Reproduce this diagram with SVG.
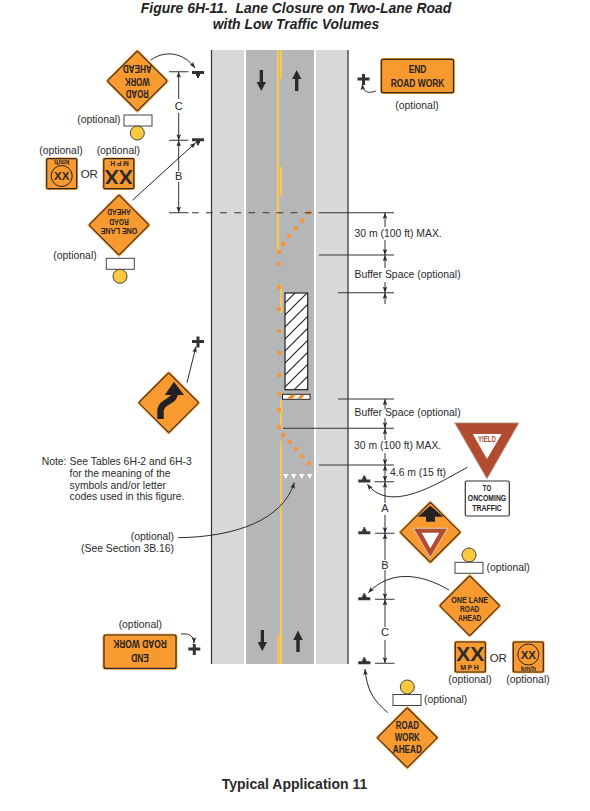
<svg xmlns="http://www.w3.org/2000/svg" width="590" height="811" viewBox="0 0 590 811">
<style>
text{font-family:"Liberation Sans",Arial,sans-serif;fill:#2a2a2a;font-size:10.4px}
.mid{text-anchor:middle}
.end{text-anchor:end}
.title{font-weight:bold;font-style:italic;font-size:13.9px;text-anchor:middle;fill:#222}
.sg{font-weight:bold;font-size:11.6px;text-anchor:middle;fill:#222}
.sm{font-size:8.8px}
.lab{font-size:11px;text-anchor:middle}
.dim{fill:none;stroke:#333;stroke-width:1;marker-end:url(#ah)}
.tick{fill:none;stroke:#333;stroke-width:1.1}
.conn{fill:none;stroke:#2a2a2a;stroke-width:1;marker-end:url(#ah)}
.cone{fill:#f7943a}
.yel{fill:#fcc742}
.plq{fill:#fff;stroke:#444;stroke-width:1}
.lamp{fill:#fcc93e;stroke:#444;stroke-width:1}
.post{fill:#333}
</style>
<defs>
<marker id="ah" markerUnits="userSpaceOnUse" markerWidth="6" markerHeight="9" refX="8" refY="3" viewBox="0 0 8 6" orient="auto"><path d="M0,0L8,3L0,6L1.5,3Z" fill="#2a2a2a"/></marker>
<pattern id="hatch" patternUnits="userSpaceOnUse" width="12" height="12"><path d="M-3,15L15,-3M-15,15L15,-15M-3,27L27,-3" stroke="#222" stroke-width="1.2"/></pattern>
<g id="dia"><rect x="-22.6" y="-22.6" width="45.2" height="45.2" transform="rotate(45)" rx="1.5" fill="#f99a31"/><rect x="-21.2" y="-21.2" width="42.4" height="42.4" transform="rotate(45)" rx="1.5" fill="#f99a31" stroke="#2a2a2a" stroke-width="1"/></g>
<g id="sq"><rect x="-16.3" y="-16.3" width="32.6" height="32.6" rx="2" fill="#f99a31"/><rect x="-15" y="-15" width="30" height="30" rx="1.5" fill="#f99a31" stroke="#2a2a2a" stroke-width="1.2"/></g>
<g id="wide"><rect x="-37.4" y="-18" width="74.8" height="36" rx="3" fill="#f99a31"/><rect x="-36" y="-16.7" width="72" height="33.4" rx="2" fill="#f99a31" stroke="#2a2a2a" stroke-width="1.2"/></g>
<path id="tt" d="M-6,3.5H6V0.5H2V-1.5H1V-3.5H-1V-1.5H-2V0.5H-6Z" class="post"/>
<path id="cr" d="M-1.5,-5H1.500V-1.500H6V1.500H1.500V6H-1.500V1.500H-6V-1.500H-1.500Z" class="post"/>
</defs>

<g id="title">
<text class="title" x="296" y="13">Figure 6H-11.&#160; Lane Closure on Two-Lane Road</text>
<text class="title" x="296" y="29">with Low Traffic Volumes</text>
</g>

<g id="road">
<rect x="211" y="50" width="137.500" height="614" fill="#d6d8da"/>
<rect x="244" y="50" width="2" height="614" fill="#fff"/>
<rect x="246" y="50" width="68" height="614" fill="#b5b6b8"/>
<rect x="314" y="50" width="2" height="614" fill="#fff"/>
<path d="M211.500,50V664M348,50V664" stroke="#333" stroke-width="1.200" fill="none"/>
<rect class="yel" x="277" y="50" width="2" height="201"/>
<rect class="yel" x="280" y="50" width="2" height="29"/>
<rect class="yel" x="280" y="167" width="2" height="29"/>
<rect class="yel" x="280" y="284" width="2" height="29"/>
<rect class="yel" x="280" y="400" width="2" height="28"/>
<rect class="yel" x="280" y="441" width="2" height="223"/>
<rect class="yel" x="277.500" y="635" width="2" height="29"/>
<path d="M259.700,70H263V82H266L261.300,91L256.600,82H259.700Z" fill="#2a2a2a"/>
<path d="M295,91H298.400V79H301.400L296.700,70L292,79H295Z" fill="#2a2a2a"/>
<path d="M260.700,630H264V642H267L262.300,651L257.600,642H260.700Z" fill="#2a2a2a"/>
<path d="M296.300,652H299.700V640H302.700L298,630.500L293.300,640H296.300Z" fill="#2a2a2a"/>
</g>

<g id="work-area">
<rect x="285" y="293" width="22.700" height="96.700" fill="#fff"/>
<rect x="285" y="293" width="22.700" height="96.700" fill="url(#hatch)" stroke="#222" stroke-width="1.200"/>
<rect x="282.500" y="394.300" width="27.500" height="5" fill="#fff" stroke="#222" stroke-width="1"/>
<path d="M287,398.800L291,394.800H296L292,398.800ZM297,398.800L301,394.800H305L301,398.800Z" fill="#f08a24"/>
</g>

<g id="cones">
<rect class="cone" x="306.800" y="210.700" width="4" height="4"/>
<rect class="cone" x="300.300" y="218.700" width="4" height="4"/>
<rect class="cone" x="294" y="226.700" width="4" height="4"/>
<rect class="cone" x="287.300" y="234.300" width="4" height="4"/>
<rect class="cone" x="281.300" y="242" width="4" height="4"/>
<rect class="cone" x="277" y="250" width="4" height="4"/>
<rect class="cone" x="277" y="261.700" width="4" height="4"/>
<rect class="cone" x="277" y="285" width="4" height="4"/>
<rect class="cone" x="277" y="307" width="4" height="4"/>
<rect class="cone" x="277" y="329" width="4" height="4"/>
<rect class="cone" x="277" y="351" width="4" height="4"/>
<rect class="cone" x="277" y="373" width="4" height="4"/>
<rect class="cone" x="277" y="391.700" width="4" height="4"/>
<rect class="cone" x="277" y="408" width="4" height="4"/>
<rect class="cone" x="277" y="425.300" width="4" height="4"/>
<rect class="cone" x="281.300" y="433" width="4" height="4"/>
<rect class="cone" x="287.700" y="439.700" width="4" height="4"/>
<rect class="cone" x="294" y="447" width="4" height="4"/>
<rect class="cone" x="300.300" y="454.300" width="4" height="4"/>
<rect class="cone" x="307" y="461.300" width="4" height="4"/>
<path d="M283.200,474H288.200L285.700,479ZM291.200,474H296.200L293.700,479ZM299.200,474H304.200L301.700,479ZM307.200,474H312.200L309.700,479Z" fill="#fff"/>
</g>

<g id="connectors">
<path class="tick" d="M169,71.700H188.500M169,140.300H188.500M169,212.700H188.500M318.500,212.700H394M319,255H394M338,292.700H394M338,399H394M283,428.300H394M319,465H394M374.500,481.700H394M375,533.300H394.500M375,599.300H394.500M375,663.300H394.500"/>
<path d="M192,212.700H312" fill="none" stroke="#333" stroke-width="1.100" stroke-dasharray="6.700 7.400"/>
<path class="dim" d="M178.700,99V71.700"/><path class="dim" d="M178.700,113V140.300"/>
<path class="dim" d="M178.700,171V140.300"/><path class="dim" d="M178.700,182V212.700"/>
<path class="dim" d="M385,227V212.700"/><path class="dim" d="M385,240V255"/>
<path class="dim" d="M385,268V255"/><path class="dim" d="M385,282V292.700"/>
<path class="dim" d="M385,304V292.700"/><path class="dim" d="M385,409V399"/>
<path class="dim" d="M385,418V428.300"/><path class="dim" d="M385,440V428.300"/>
<path class="dim" d="M385,453V465"/><path class="dim" d="M385,473.500V465"/>
<path class="dim" d="M385,473.500V481.700"/><path class="dim" d="M385,503V481.700"/>
<path class="dim" d="M385,515V533.300"/><path class="dim" d="M385,560V533.300"/>
<path class="dim" d="M385,570V599.300"/><path class="dim" d="M385,627V599.300"/>
<path class="dim" d="M385,640V663.300"/>
<path class="conn" d="M150.700,60C165,50 183,52 195,68"/>
<path class="conn" d="M132.700,200L195.700,142.700"/>
<path class="conn" d="M375.700,91C368,94 363,92 362.300,84"/>
<path class="conn" d="M187,382.700L196,346.500"/>
<path class="conn" d="M178.300,537.700C235,537 283,520 294.300,482.500"/>
<path class="conn" d="M467.300,467.300C440,482 390,515 367.300,484"/>
<path class="conn" d="M449,590C420,573 390,570 368.300,592.700"/>
<path class="conn" d="M387.700,712.700C373,700 367,690 365,669"/>
<path class="conn" d="M181,634C189,633 194,636 194,643.300"/>
</g>

<g id="posts">
<use href="#tt" transform="translate(198,74.500) rotate(180)"/>
<use href="#tt" transform="translate(198,141.700) rotate(180)"/>
<use href="#tt" x="364.300" y="479"/>
<use href="#tt" x="364.300" y="530.700"/>
<use href="#tt" x="364.300" y="596.700"/>
<use href="#tt" x="364.300" y="660.700"/>
<use href="#cr" x="363.500" y="79"/>
<use href="#cr" x="198" y="341.500"/>
<use href="#cr" x="194.300" y="649"/>
</g>

<g id="dim-labels">
<text class="lab" x="178.700" y="110">C</text>
<text class="lab" x="178.700" y="180">B</text>
<text x="354.500" y="236.700">30 m (100 ft) MAX.</text>
<text x="354.500" y="278">Buffer Space (optional)</text>
<text x="354.500" y="415.500">Buffer Space (optional)</text>
<text x="354" y="449">30 m (100 ft) MAX.</text>
<text x="390" y="476">4.6 m (15 ft)</text>
<text class="lab" x="385" y="512">A</text>
<text class="lab" x="385" y="569">B</text>
<text class="lab" x="385" y="636">C</text>
</g>

<g id="sign-road-work-top">
<use href="#dia" x="137.300" y="81"/>
<g transform="rotate(180 137.300 81)"><text class="sg" x="137.300" y="72" textLength="23" lengthAdjust="spacingAndGlyphs">ROAD</text><text class="sg" x="137.300" y="84.300" textLength="25" lengthAdjust="spacingAndGlyphs">WORK</text><text class="sg" x="137.300" y="96.600" textLength="29" lengthAdjust="spacingAndGlyphs">AHEAD</text></g>
<rect class="plq" x="124" y="115" width="28" height="11"/><circle class="lamp" cx="137.300" cy="133" r="7"/>
<text class="end" x="120.500" y="122.700">(optional)</text>
</g>

<g id="sign-speed-km-top">
<text class="mid" x="61" y="153.500">(optional)</text>
<use href="#sq" x="61.700" y="173.700"/>
<circle cx="61.700" cy="176" r="10.500" fill="none" stroke="#222" stroke-width="1"/>
<text class="mid" x="61.700" y="180.300" style="font-weight:bold;font-size:11.500px">XX</text>
<text class="mid" transform="rotate(180 61.700 162.500)" x="61.700" y="165" style="font-weight:bold;font-size:6.500px">km/h</text>
</g>
<text class="mid" x="89.300" y="177.500" style="font-size:11.500px">OR</text>
<g id="sign-speed-mph-top">
<text class="mid" x="118.300" y="153.500">(optional)</text>
<use href="#sq" x="118.800" y="173.700"/>
<g transform="rotate(180 118.800 173.700)">
<text class="mid" x="118.800" y="177.500" style="font-weight:bold;font-size:21px">XX</text>
<text class="mid" x="118.800" y="186.500" style="font-weight:bold;font-size:7px;letter-spacing:1.500px">MPH</text>
</g>
</g>

<g id="sign-one-lane-top">
<use href="#dia" x="119" y="225"/>
<g transform="rotate(180 119 225)"><text class="sg sm" x="119" y="222" textLength="36.700" lengthAdjust="spacingAndGlyphs">ONE LANE</text><text class="sg sm" x="119" y="231.300" textLength="19.300" lengthAdjust="spacingAndGlyphs">ROAD</text><text class="sg sm" x="119" y="240.600" textLength="23.300" lengthAdjust="spacingAndGlyphs">AHEAD</text></g>
<rect class="plq" x="106.300" y="258.300" width="28" height="11"/><circle class="lamp" cx="120" cy="276.300" r="7"/>
<text class="mid" x="75" y="258.500">(optional)</text>
</g>

<g id="sign-end-top">
<use href="#wide" x="417.500" y="76"/>
<text class="sg" x="417.500" y="73.300" textLength="17.700" lengthAdjust="spacingAndGlyphs">END</text>
<text class="sg" x="417.500" y="87.300" textLength="53.700" lengthAdjust="spacingAndGlyphs">ROAD WORK</text>
<text class="mid" x="417" y="108.500">(optional)</text>
</g>

<g id="sign-curve">
<use href="#dia" x="168.700" y="402.700"/>
<path d="M175,392C175,403 160.500,400 160.500,412V419" fill="none" stroke="#222" stroke-width="6.500"/>
<path d="M174,381.700L184,395H164.700Z" fill="#222"/>
</g>

<g id="note">
<text class="end" x="66.500" y="465">Note:</text>
<text x="69.500" y="465">See Tables 6H-2 and 6H-3</text>
<text x="69.500" y="477">for the meaning of the</text>
<text x="69.500" y="488.500">symbols and/or letter</text>
<text x="69.500" y="500">codes used in this figure.</text>
<text class="end" x="174" y="540">(optional)</text>
<text class="end" x="174" y="552">(See Section 3B.16)</text>
</g>

<g id="sign-yield">
<path d="M454.300,422.700H519.300L487,479.300Z" fill="#b24c30" stroke="#ccc" stroke-width="1" stroke-linejoin="round"/>
<path d="M472.700,434H501.700L487,459Z" fill="#fff"/>
<text class="mid" x="487" y="442" textLength="18" lengthAdjust="spacingAndGlyphs" style="font-weight:bold;font-size:8.500px;fill:#b24c30">YIELD</text>
<rect x="465.300" y="481" width="44" height="35" rx="1.500" fill="#fff" stroke="#333" stroke-width="1.200"/>
<text class="sg" x="487" y="491.300" textLength="8.300" lengthAdjust="spacingAndGlyphs" style="font-size:9.500px">TO</text>
<text class="sg" x="487" y="501.300" textLength="38.300" lengthAdjust="spacingAndGlyphs" style="font-size:9.500px">ONCOMING</text>
<text class="sg" x="487" y="511.300" textLength="29.700" lengthAdjust="spacingAndGlyphs" style="font-size:9.500px">TRAFFIC</text>
</g>

<g id="sign-yield-ahead">
<use href="#dia" x="430.300" y="532.300"/>
<path d="M430.300,505.700L443.300,516.700H435V521.700H426V516.700H417.700Z" fill="#222"/>
<path d="M413.300,528.300H447.700L430.300,557.700Z" fill="#b24c30" stroke="#ddd" stroke-width=".8"/>
<path d="M421.700,532.700H439.300L430.300,548.300Z" fill="#fff"/>
</g>

<g id="sign-one-lane-right">
<circle class="lamp" cx="469" cy="555" r="7"/><rect class="plq" x="455" y="562.300" width="28" height="11"/>
<text x="486.500" y="571">(optional)</text>
<use href="#dia" x="469.700" y="605.700"/>
<text class="sg sm" x="469.700" y="602.700" textLength="36.700" lengthAdjust="spacingAndGlyphs">ONE LANE</text>
<text class="sg sm" x="469.700" y="612" textLength="19.300" lengthAdjust="spacingAndGlyphs">ROAD</text>
<text class="sg sm" x="469.700" y="621.300" textLength="23.300" lengthAdjust="spacingAndGlyphs">AHEAD</text>
</g>

<g id="sign-speed-mph-right">
<use href="#sq" x="470.300" y="657"/>
<text class="mid" x="470.300" y="661" style="font-weight:bold;font-size:21px">XX</text>
<text class="mid" x="470.300" y="670" style="font-weight:bold;font-size:7px;letter-spacing:1.500px">MPH</text>
<text class="mid" x="470" y="683">(optional)</text>
</g>
<text class="mid" x="498.300" y="661.500" style="font-size:11.500px">OR</text>
<g id="sign-speed-km-right">
<use href="#sq" x="528.300" y="657"/>
<circle cx="528.300" cy="654.500" r="10.500" fill="none" stroke="#222" stroke-width="1"/>
<text class="mid" x="528.300" y="658.500" style="font-weight:bold;font-size:11.500px">XX</text>
<text class="mid" x="528.300" y="671" style="font-weight:bold;font-size:6.500px">km/h</text>
<text class="mid" x="528" y="683">(optional)</text>
</g>

<g id="sign-road-work-bottom">
<circle class="lamp" cx="407.300" cy="687" r="7"/><rect class="plq" x="393" y="694.500" width="28" height="11"/>
<text x="424" y="703">(optional)</text>
<use href="#dia" x="407.300" y="737.700"/>
<text class="sg" x="407.300" y="728.700" textLength="23" lengthAdjust="spacingAndGlyphs">ROAD</text>
<text class="sg" x="407.300" y="741" textLength="25" lengthAdjust="spacingAndGlyphs">WORK</text>
<text class="sg" x="407.300" y="753.300" textLength="29" lengthAdjust="spacingAndGlyphs">AHEAD</text>
</g>

<g id="sign-end-bottom">
<text class="mid" x="140.300" y="628">(optional)</text>
<use href="#wide" x="140" y="651.700"/>
<g transform="rotate(180 140 651.700)"><text class="sg" x="140" y="649" textLength="17.700" lengthAdjust="spacingAndGlyphs">END</text><text class="sg" x="140" y="663" textLength="53.700" lengthAdjust="spacingAndGlyphs">ROAD WORK</text></g>
</g>

<text class="mid" x="294.500" y="789" style="font-weight:bold;font-size:14px">Typical Application 11</text>
</svg>
